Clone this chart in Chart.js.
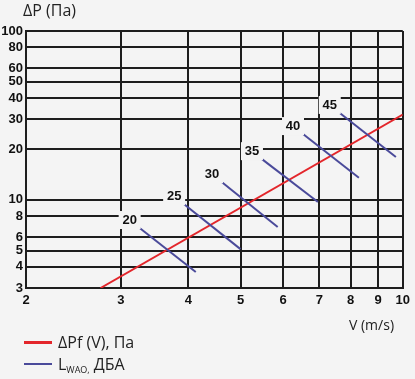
<!DOCTYPE html>
<html>
<head>
<meta charset="utf-8">
<script src="https://cdn.jsdelivr.net/npm/chart.js@4"></script>
<style>
  html, body { margin: 0; padding: 0; background: #f4f4f4; }
  #wrap { position: relative; width: 415px; height: 379px; overflow: hidden; font-family: "Open Sans", "Liberation Sans", sans-serif; color: #222; }
  #chart { position: absolute; left: 0; top: 0; }
  .txt { position: absolute; font-size: 15px; line-height: 18px; white-space: nowrap; }
  .swatch { position: absolute; width: 28px; height: 3px; }
  sub { font-size: 9px; vertical-align: -3px; }
</style>
</head>
<body>
<div id="wrap">
  <canvas id="chart" width="415" height="379"></canvas>
  <div class="txt" style="left:23px; top:1px; font-size:16px;">ΔP (Па)</div>
  <div class="txt" style="left:349px; top:316px; font-size:14px;">V (m/s)</div>
  <div class="swatch" style="left:24px; top:341px; background:#e3262b;"></div>
  <div class="txt" style="left:58px; top:333px; font-size:16px;">ΔPf (V), Па</div>
  <div class="swatch" style="left:24px; top:363px; height:2px; background:#4a4a9a;"></div>
  <div class="txt" style="left:58px; top:355px; font-size:16px;">L<sub>WAO,</sub> ДБА</div>
</div>
<script>
  // axis ticks
  var xTicks = [2, 3, 4, 5, 6, 7, 8, 9, 10];
  var yTicks = [3, 4, 5, 6, 8, 10, 20, 30, 40, 50, 60, 80, 100];

  // pressure drop curve dP(V)
  var pressureV = [2.75, 10];
  var pressureP = [3, 32];

  // noise level lines L_WAO, dBA
  var noiseLevels = [20, 25, 30, 35, 40, 45];
  var noiseStartV = [3.25, 3.93, 4.62, 5.48, 6.53, 7.64];
  var noiseStartP = [6.8, 9.4, 12.7, 17.4, 24.5, 32.7];
  var noiseEndV = [4.13, 5.0, 5.86, 6.96, 8.29, 9.71];
  var noiseEndP = [3.73, 5.1, 6.9, 9.7, 13.5, 17.9];

  var bg = '#f4f4f4';
  var gridColor = '#1e1e1e';

  var datasets = [];
  noiseLevels.forEach(function (lvl, i) {
    datasets.push({
      label: 'L ' + lvl,
      data: [
        { x: noiseStartV[i], y: noiseStartP[i] },
        { x: noiseEndV[i], y: noiseEndP[i] }
      ],
      borderColor: '#4a4a9a',
      borderWidth: 2,
      pointRadius: 0,
      showLine: true,
      fill: false
    });
  });
  datasets.push({
    label: 'dPf',
    data: pressureV.map(function (v, i) { return { x: v, y: pressureP[i] }; }),
    borderColor: '#e3262b',
    borderWidth: 2,
    pointRadius: 0,
    showLine: true,
    fill: false
  });

  // level labels with a background box at the start of each noise line
  var levelLabels = {
    id: 'levelLabels',
    afterDatasetsDraw: function (chart) {
      var ctx = chart.ctx;
      var xs = chart.scales.x;
      var ys = chart.scales.y;
      ctx.save();
      ctx.font = 'bold 13px "Liberation Sans", Arial, sans-serif';
      ctx.textAlign = 'center';
      ctx.textBaseline = 'middle';
      noiseLevels.forEach(function (lvl, i) {
        var px = xs.getPixelForValue(noiseStartV[i]) - 10;
        var py = ys.getPixelForValue(noiseStartP[i]) - 8;
        ctx.fillStyle = bg;
        ctx.fillRect(px - 11, py - 9, 22, 18);
        ctx.fillStyle = '#111';
        ctx.fillText(String(lvl), px, py);
      });
      ctx.restore();
    }
  };

  var bgPlugin = {
    id: 'bgFill',
    beforeDraw: function (chart) {
      var ctx = chart.ctx;
      ctx.save();
      ctx.fillStyle = bg;
      ctx.fillRect(0, 0, chart.width, chart.height);
      ctx.restore();
    }
  };

  var tickFont = { family: '"Liberation Sans", Arial, sans-serif', size: 13, weight: 'bold' };

  new Chart(document.getElementById('chart'), {
    type: 'scatter',
    data: { datasets: datasets },
    plugins: [bgPlugin, levelLabels],
    options: {
      responsive: false,
      animation: false,
      layout: { padding: { top: 31, right: 12, left: 0, bottom: 0 } },
      plugins: { legend: { display: false }, tooltip: { enabled: false } },
      scales: {
        x: {
          type: 'logarithmic',
          min: 2,
          max: 10,
          afterBuildTicks: function (axis) {
            axis.ticks = xTicks.map(function (v) { return { value: v }; });
          },
          afterFit: function (axis) { axis.height = 91; },
          ticks: {
            color: '#111',
            font: tickFont,
            padding: 5,
            maxRotation: 0,
            autoSkip: false,
            callback: function (v) { return String(v); }
          },
          grid: { color: gridColor, lineWidth: 2, drawTicks: false },
          border: { color: gridColor, width: 2 }
        },
        y: {
          type: 'logarithmic',
          min: 3,
          max: 100,
          afterBuildTicks: function (axis) {
            axis.ticks = yTicks.map(function (v) { return { value: v }; });
          },
          afterFit: function (axis) { axis.width = 26; },
          ticks: {
            color: '#111',
            font: tickFont,
            padding: 3,
            autoSkip: false,
            callback: function (v) { return String(v); }
          },
          grid: { color: gridColor, lineWidth: 2, drawTicks: false },
          border: { color: gridColor, width: 2 }
        }
      }
    }
  });
</script>
</body>
</html>
